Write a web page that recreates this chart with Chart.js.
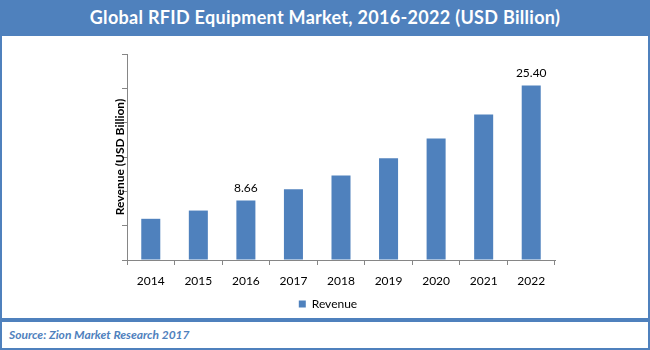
<!DOCTYPE html>
<html>
<head>
<meta charset="utf-8">
<script src="https://cdn.jsdelivr.net/npm/chart.js@4.4.0/dist/chart.umd.min.js"></script>
<style>
	body { margin: 0; width: 650px; height: 350px; background: #fff; overflow: hidden; font-family: Lato, sans-serif; }
	.frame { position: absolute; left: 0; top: 0; width: 650px; height: 320px; box-sizing: border-box; border: 2px solid #4f81bd; }
	.title { position: absolute; left: 0; top: 0; width: 650px; height: 36px; background: #4f81bd; color: #fff;
		font: bold 18px Lato, sans-serif; letter-spacing: 0.3px; line-height: 35px; text-align: center; }
	.chartBox { position: absolute; left: 2px; top: 36px; width: 646px; height: 282px; }
	.source { position: absolute; left: 0; top: 320px; width: 650px; height: 30px; box-sizing: border-box;
		border: 2px solid #4f81bd; color: #4f81bd; font: italic bold 12px Lato, sans-serif; line-height: 25px; padding-left: 7px; }
</style>
</head>
<body>
<div class="frame"></div>
<div class="title">Global RFID Equipment Market, 2016-2022 (USD Billion)</div>
<div class="chartBox"><canvas id="bar-chart" width="646" height="282"></canvas></div>
<div class="source">Source: Zion Market Research 2017</div>
<script>
const years = ['2014', '2015', '2016', '2017', '2018', '2019', '2020', '2021', '2022'];
const revenue = [6.0, 7.2, 8.66, 10.3, 12.3, 14.8, 17.7, 21.2, 25.40];
const labelledYears = ['2016', '2022'];

const axisGrey = '#868686';

// value text above the labelled bars
const valueLabels = {
	id: 'valueLabels',
	afterDatasetsDraw(chart) {
		const ctx = chart.ctx;
		const meta = chart.getDatasetMeta(0);
		ctx.save();
		ctx.font = '12px Lato, sans-serif';
		ctx.fillStyle = '#000';
		ctx.textAlign = 'center';
		ctx.textBaseline = 'bottom';
		years.forEach((y, i) => {
			if (!labelledYears.includes(y)) return;
			const bar = meta.data[i];
			ctx.fillText(revenue[i].toFixed(2), bar.x, bar.y - 6);
		});
		ctx.restore();
	}
};

// nudge the legend a little to the left of the plot centre
const legendShift = {
	id: 'legendShift',
	afterLayout(chart) {
		if (!chart.legend) return;
		chart.legend.left -= 6;
		chart.legend.right -= 6;
	}
};

const ctx = document.getElementById('bar-chart').getContext('2d');
new Chart(ctx, {
	type: 'bar',
	data: {
		labels: years,
		datasets: [{
			label: 'Revenue',
			data: revenue,
			backgroundColor: '#4f81bd',
			barPercentage: 0.8,
			categoryPercentage: 0.5,
		}],
	},
	options: {
		responsive: false,
		animation: false,
		layout: { padding: { left: 111, right: 93, top: 18, bottom: -2 } },
		plugins: {
			tooltip: { enabled: false },
			legend: {
				position: 'bottom',
				labels: { boxWidth: 7, boxHeight: 7, color: '#000', font: { family: 'Lato', size: 12 }, padding: 6 },
			},
		},
		scales: {
			x: {
				afterFit(scale) { scale.height = 32; },
				grid: { display: true, drawOnChartArea: false, color: axisGrey, tickLength: 5, offset: true },
				border: { color: axisGrey, width: 1 },
				ticks: { color: '#000', font: { family: 'Lato', size: 12 }, padding: 9 },
			},
			y: {
				min: 0,
				max: 30,
				afterFit(scale) { scale.width = 14; },
				grid: { display: true, drawOnChartArea: false, color: axisGrey, tickLength: 5 },
				border: { color: axisGrey, width: 1 },
				ticks: { stepSize: 5, display: false },
				title: {
					display: true,
					text: 'Revenue (USD Billion)',
					color: '#000',
					font: { family: 'Lato', size: 12, weight: 'bold' },
					padding: 0,
				},
			},
		},
	},
	plugins: [valueLabels, legendShift],
});
</script>
</body>
</html>
